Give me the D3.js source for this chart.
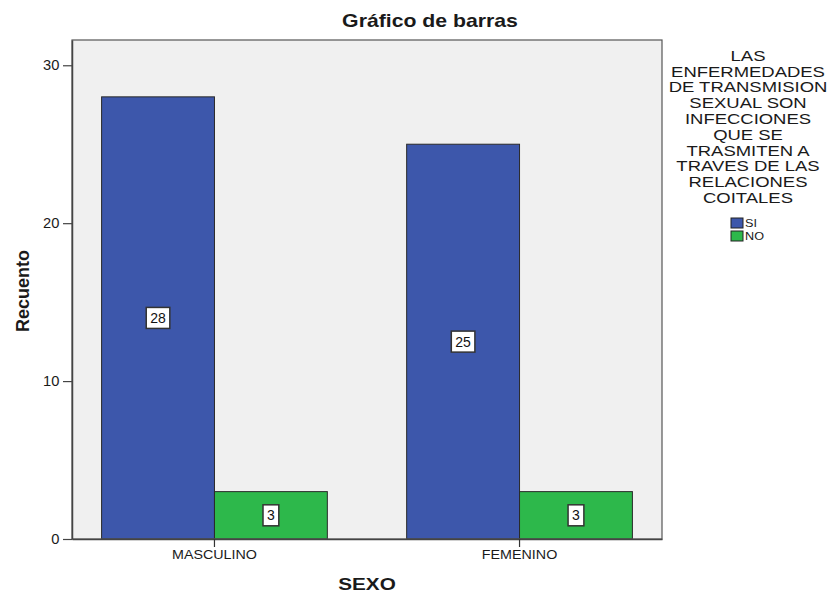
<!DOCTYPE html>
<html>
<head>
<meta charset="utf-8">
<script src="https://cdn.jsdelivr.net/npm/d3@7"></script>
<style>
  html, body { margin: 0; padding: 0; background: #fff; }
  text { font-family: "Liberation Sans", Arial, sans-serif; }
</style>
</head>
<body>
<svg id="chart" width="832" height="594"></svg>
<script>
const categories = ["MASCULINO", "FEMENINO"];
const seriesNames = ["SI", "NO"];
const siValues = [28, 25];
const noValues = [3, 3];
const yTicks = [0, 10, 20, 30];
const chartTitle = "Gráfico de barras";
const xTitle = "SEXO";
const yTitle = "Recuento";
const legendTitleLines = ["LAS", "ENFERMEDADES", "DE TRANSMISION", "SEXUAL SON", "INFECCIONES",
  "QUE SE", "TRASMITEN A", "TRAVES DE LAS", "RELACIONES", "COITALES"];
const seriesColors = ["#3d57ab", "#2db84b"];

const svg = d3.select("#chart");
const L = 72, R = 662, T = 40, B = 539;

const table = categories.map((c, i) => ({ cat: c, values: [siValues[i], noValues[i]] }));

const x0 = d3.scaleBand().domain(categories).range([L, R]).paddingInner(0.26).paddingOuter(0.097);
const x1 = d3.scaleBand().domain(seriesNames).range([0, x0.bandwidth()]);
const y = d3.scaleLinear().domain([0, 31.6]).range([B, T]);
const color = d3.scaleOrdinal().domain(seriesNames).range(seriesColors);

function sText(parent, x, yy, txt, size, sx, weight, anchor) {
  return parent.append("text")
    .attr("transform", `translate(${x},${yy}) scale(${sx},1)`)
    .attr("text-anchor", anchor || "middle")
    .attr("font-size", size)
    .attr("font-weight", weight || "normal")
    .attr("fill", "#1a1a1a")
    .text(txt);
}

// plot background
svg.append("rect").attr("x", L).attr("y", T).attr("width", R - L).attr("height", B - T)
  .attr("fill", "#f0f0f0");

// bars
const groups = svg.selectAll("g.cat").data(table).join("g").attr("class", "cat")
  .attr("transform", d => `translate(${x0(d.cat)},0)`);
groups.selectAll("rect").data(d => d.values.map((v, j) => ({ s: seriesNames[j], v })))
  .join("rect")
  .attr("x", d => x1(d.s)).attr("y", d => y(d.v))
  .attr("width", x1.bandwidth()).attr("height", d => y(0) - y(d.v))
  .attr("fill", d => color(d.s)).attr("stroke", "#2a2a2a").attr("stroke-width", 1);

// bar labels
groups.each(function(d) {
  const g = d3.select(this);
  d.values.forEach((v, j) => {
    const cx = x1(seriesNames[j]) + x1.bandwidth() / 2;
    const cy = y(v / 2);
    const lg = g.append("g");
    const box = lg.append("rect");
    const t = lg.append("text").attr("x", cx).attr("y", cy + 5).attr("text-anchor", "middle")
      .attr("font-size", 14).attr("fill", "#111").text(v);
    const w = t.node().getComputedTextLength() + 8;
    box.attr("x", cx - w / 2).attr("y", cy - 10.5).attr("width", w).attr("height", 21)
      .attr("fill", "#fff").attr("stroke", "#333").attr("stroke-width", 1.5);
  });
});

// frame
svg.append("rect").attr("x", L).attr("y", T).attr("width", R - L).attr("height", B - T)
  .attr("fill", "none").attr("stroke", "#555").attr("stroke-width", 1.2);

// y axis
const ya = svg.append("g").attr("transform", `translate(${L},0)`)
  .call(d3.axisLeft(y).tickValues(yTicks).tickSizeInner(9).tickSizeOuter(0).tickPadding(3)
    .tickFormat(d3.format("d")));
ya.select(".domain").attr("stroke", "#444").attr("stroke-width", 1.5);
ya.selectAll(".tick line").attr("stroke", "#444").attr("stroke-width", 1.2);
ya.selectAll(".tick text").attr("font-size", 14).attr("fill", "#1a1a1a")
  .attr("font-family", "Liberation Sans, Arial, sans-serif")
  .attr("transform", "scale(1.05,1)");

// x axis
const xa = svg.append("g").attr("transform", `translate(0,${B})`)
  .call(d3.axisBottom(x0).tickSizeInner(8).tickSizeOuter(0).tickPadding(3));
xa.select(".domain").attr("stroke", "#444").attr("stroke-width", 1.5);
xa.selectAll(".tick line").attr("stroke", "#333").attr("stroke-width", 1.2);
xa.selectAll(".tick text").attr("font-size", 13).attr("fill", "#1a1a1a")
  .attr("font-family", "Liberation Sans, Arial, sans-serif")
  .attr("transform", "scale(1.1,1)");

// titles
sText(svg, 430, 27, chartTitle, 18, 1.18, "bold");
sText(svg, (L + R) / 2, 590, xTitle, 17, 1.22, "bold");
svg.append("text").attr("transform", `translate(29,291) rotate(-90)`)
  .attr("text-anchor", "middle").attr("font-size", 18).attr("font-weight", "bold")
  .attr("fill", "#1a1a1a").text(yTitle);

// legend
const lg = svg.append("g");
legendTitleLines.forEach((line, i) => {
  sText(lg, 748, 60.7 + i * 15.8, line, 14, 1.32, "normal");
});
seriesNames.forEach((s, i) => {
  lg.append("rect").attr("x", 731).attr("y", 218 + i * 13).attr("width", 12).attr("height", 10)
    .attr("fill", color(s)).attr("stroke", "#222").attr("stroke-width", 1);
  sText(lg, 745, 227 + i * 13, s, 11, 1.15, "normal", "start");
});
</script>
</body>
</html>
